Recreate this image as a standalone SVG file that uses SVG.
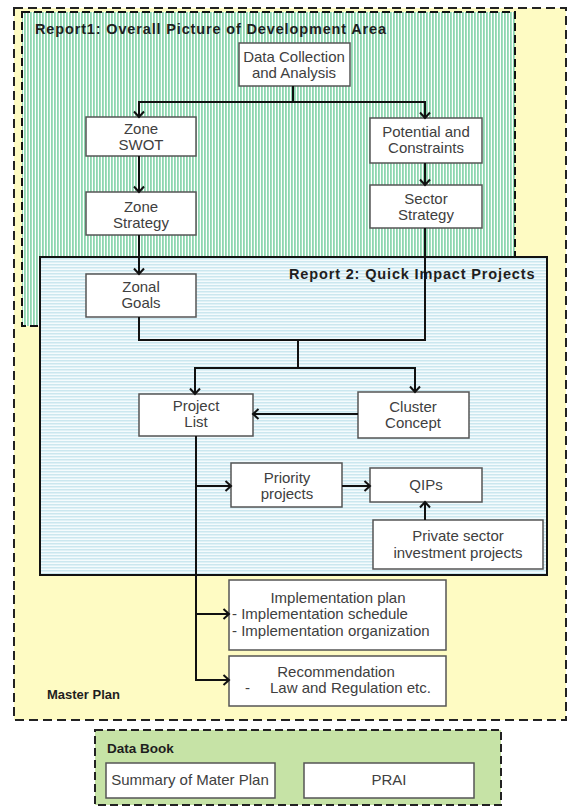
<svg xmlns="http://www.w3.org/2000/svg" width="568" height="807" viewBox="0 0 568 807">
<style>
.box{fill:#ffffff;stroke:#555555;stroke-width:1.5}
.t{font-family:"Liberation Sans",Arial,sans-serif;font-size:15px;fill:#404040}
.c{text-anchor:middle}
.title{font-family:"Liberation Sans",Arial,sans-serif;font-size:14.5px;letter-spacing:0.85px;font-weight:bold;fill:#1e1e1e}
.lbl{font-family:"Liberation Sans",Arial,sans-serif;font-weight:bold;fill:#1e1e1e}
.conn{fill:none;stroke:#111111;stroke-width:2}
.arr{marker-end:url(#ah)}
</style>
<defs>
<pattern id="green" width="3" height="10" patternUnits="userSpaceOnUse">
<rect width="3" height="10" fill="#ffffff"/>
<rect width="1.8" height="10" fill="#8ed6b0"/>
</pattern>
<pattern id="blue" width="10" height="3" patternUnits="userSpaceOnUse">
<rect width="10" height="3" fill="#f4fbfd"/>
<rect width="10" height="1.5" fill="#cbe7ef"/>
</pattern>
<marker id="ah" viewBox="-7 -7 14 14" refX="0" refY="0" markerWidth="14" markerHeight="14" markerUnits="userSpaceOnUse" orient="auto">
<path d="M-5.5,-5 L0,0 L-5.5,5" fill="none" stroke="#111111" stroke-width="2"/>
</marker>
</defs>

<g id="master-plan">
<rect x="14" y="8" width="552" height="712" fill="#fefbc3" stroke="#222222" stroke-width="2" stroke-dasharray="9,5"/>
<text class="lbl" x="47" y="699" font-size="13">Master Plan</text>
</g>

<g id="report1">
<rect x="22" y="12" width="493" height="314" fill="url(#green)" stroke="#111111" stroke-width="2" stroke-dasharray="8,4"/>
<text class="title" x="35" y="34">Report1: Overall Picture of Development Area</text>
</g>

<g id="report2">
<rect x="40" y="257" width="507" height="318" fill="url(#blue)" stroke="#111111" stroke-width="2"/>
<text class="title" x="289" y="279">Report 2: Quick Impact Projects</text>
</g>

<g id="data-collection">
<rect class="box" x="239" y="43" width="111" height="43"/>
<text class="t c" x="294" y="62">Data Collection</text>
<text class="t c" x="294" y="78">and Analysis</text>
</g>

<g id="zone-swot">
<rect class="box" x="86" y="117" width="110" height="39"/>
<text class="t c" x="141" y="134">Zone</text>
<text class="t c" x="141" y="150">SWOT</text>
</g>

<g id="potential">
<rect class="box" x="370" y="118" width="112" height="45"/>
<text class="t c" x="426" y="137">Potential and</text>
<text class="t c" x="426" y="153">Constraints</text>
</g>

<g id="zone-strategy">
<rect class="box" x="86" y="192" width="110" height="43"/>
<text class="t c" x="141" y="212">Zone</text>
<text class="t c" x="141" y="228">Strategy</text>
</g>

<g id="sector-strategy">
<rect class="box" x="370" y="185" width="112" height="43"/>
<text class="t c" x="426" y="204">Sector</text>
<text class="t c" x="426" y="220">Strategy</text>
</g>

<g id="zonal-goals">
<rect class="box" x="86" y="274" width="110" height="43"/>
<text class="t c" x="141" y="292">Zonal</text>
<text class="t c" x="141" y="308">Goals</text>
</g>

<g id="project-list">
<rect class="box" x="139" y="394" width="114" height="42"/>
<text class="t c" x="196" y="411">Project</text>
<text class="t c" x="196" y="427">List</text>
</g>

<g id="cluster-concept">
<rect class="box" x="358" y="392" width="111" height="46"/>
<text class="t c" x="413" y="412">Cluster</text>
<text class="t c" x="413" y="428">Concept</text>
</g>

<g id="priority-projects">
<rect class="box" x="231" y="463" width="111" height="44"/>
<text class="t c" x="287" y="483">Priority</text>
<text class="t c" x="287" y="499">projects</text>
</g>

<g id="qips">
<rect class="box" x="370" y="468" width="112" height="34"/>
<text class="t c" x="426" y="490">QIPs</text>
</g>

<g id="private-sector">
<rect class="box" x="373" y="520" width="170" height="49"/>
<text class="t c" x="458" y="541">Private sector</text>
<text class="t c" x="458" y="558">investment projects</text>
</g>

<g id="implementation-plan">
<rect class="box" x="229" y="580" width="217" height="70"/>
<text class="t c" x="338" y="603">Implementation plan</text>
<text class="t" x="232" y="619">- Implementation schedule</text>
<text class="t" x="232" y="636">- Implementation organization</text>
</g>

<g id="recommendation">
<rect class="box" x="229" y="656" width="217" height="50"/>
<text class="t c" x="336" y="677">Recommendation</text>
<text class="t" x="245" y="693">-</text>
<text class="t" x="270" y="693">Law and Regulation etc.</text>
</g>

<g id="data-book">
<rect x="95" y="730" width="406" height="75" fill="#c6e3a6" stroke="#222222" stroke-width="2" stroke-dasharray="8,4"/>
<text class="lbl" x="107" y="753" font-size="13.5">Data Book</text>
<rect class="box" x="106" y="763" width="169" height="35"/>
<text class="t c" x="190" y="785">Summary of Mater Plan</text>
<rect class="box" x="304" y="763" width="170" height="35"/>
<text class="t c" x="389" y="785">PRAI</text>
</g>

<g id="connectors">
<path class="conn arr" d="M293,86 V102 H139 V117"/>
<path class="conn arr" d="M293,102 H425 V118"/>
<path class="conn arr" d="M139,156 V192"/>
<path class="conn arr" d="M425,163 V185"/>
<path class="conn arr" d="M139,235 V274"/>
<path class="conn" d="M139,317 V340 H425 V228"/>
<path class="conn arr" d="M298,340 V368 H195 V394"/>
<path class="conn arr" d="M298,368 H415 V392"/>
<path class="conn arr" d="M358,414 H253"/>
<path class="conn arr" d="M196,436 V680 H229"/>
<path class="conn arr" d="M196,486 H231"/>
<path class="conn arr" d="M196,614 H229"/>
<path class="conn arr" d="M342,486 H370"/>
<path class="conn arr" d="M425,520 V502"/>
</g>
</svg>
